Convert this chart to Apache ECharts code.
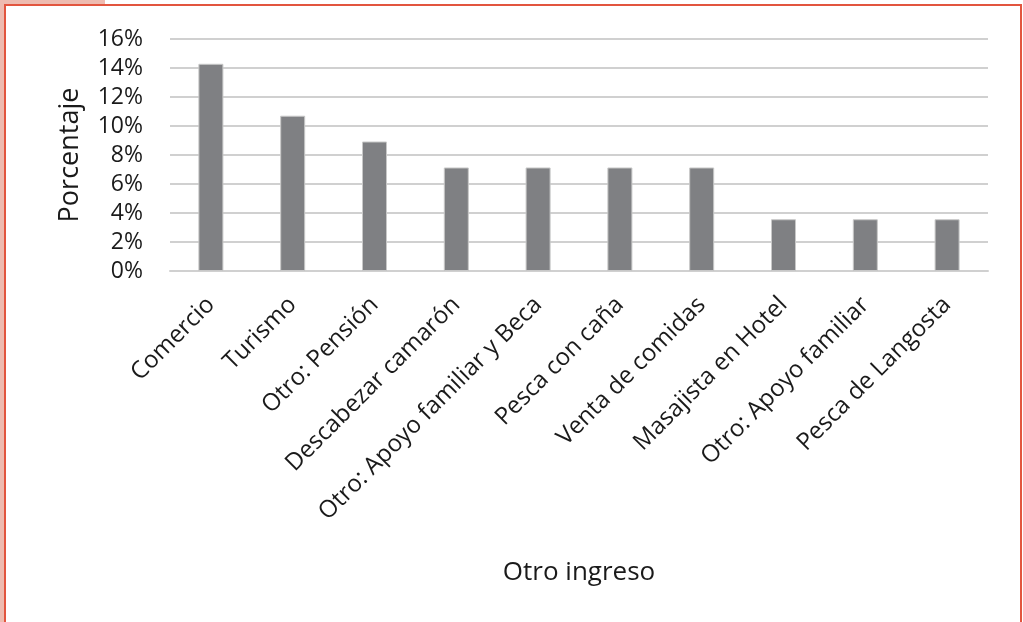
<!DOCTYPE html>
<html>
<head>
<meta charset="utf-8">
<script src="https://cdn.jsdelivr.net/npm/echarts@6/dist/echarts.min.js"></script>
<style>
  html, body { margin: 0; padding: 0; background: #fff; }
  #frame {
    position: absolute; left: 0; top: 0; width: 1023px; height: 622px;
    background: #fff; overflow: hidden;
  }
  #deco-left { position: absolute; left: 0; top: 0; width: 5px; height: 622px; background: #eebbb0; z-index: 2; }
  #deco-top { position: absolute; left: 0; top: 0; width: 105px; height: 5px; background: #eebbb0; z-index: 2; }
  #border {
    position: absolute; left: 4px; top: 4px; width: 1018px; height: 640px;
    border: 2px solid #e2553f; box-sizing: border-box; z-index: 3;
  }
  #chart { position: absolute; left: 0; top: 0; width: 1023px; height: 622px; z-index: 1; }
</style>
</head>
<body>
<div id="frame">
  <div id="chart"></div>
  <div id="deco-left"></div>
  <div id="deco-top"></div>
  <div id="border"></div>
</div>
<script>
const categories = [
  "Comercio",
  "Turismo",
  "Otro: Pensión",
  "Descabezar camarón",
  "Otro: Apoyo familiar y Beca",
  "Pesca con caña",
  "Venta de comidas",
  "Masajista en Hotel",
  "Otro: Apoyo familiar",
  "Pesca de Langosta"
];
const percentages = [14.29, 10.71, 8.93, 7.14, 7.14, 7.14, 7.14, 3.57, 3.57, 3.57];
const yTicks = [0, 2, 4, 6, 8, 10, 12, 14, 16];

const font = "'Open Sans', sans-serif";
const chart = echarts.init(document.getElementById("chart"));
chart.setOption({
  animation: false,
  grid: { left: 170, right: 35, top: 39, bottom: 351 },
  xAxis: {
    type: "category",
    data: categories,
    name: "Otro ingreso",
    nameLocation: "middle",
    nameGap: 289,
    nameTextStyle: { fontFamily: font, fontSize: 26, color: "#1a1a1a" },
    axisLine: { lineStyle: { color: "#d0d0d0", width: 2 } },
    axisTick: { show: false },
    axisLabel: {
      rotate: 45,
      interval: 0,
      margin: 30,
      fontFamily: font,
      fontSize: 24,
      color: "#1a1a1a"
    }
  },
  yAxis: {
    type: "value",
    min: yTicks[0],
    max: yTicks[yTicks.length - 1],
    interval: 2,
    name: "Porcentaje",
    nameLocation: "middle",
    nameGap: 86,
    nameTextStyle: { fontFamily: font, fontSize: 27, color: "#1a1a1a" },
    axisLine: { show: false },
    axisTick: { show: false },
    splitLine: { lineStyle: { color: "#d0d0d0", width: 2 } },
    axisLabel: {
      margin: 27,
      fontFamily: font,
      fontSize: 23,
      color: "#1a1a1a",
      formatter: (v) => v + "%"
    }
  },
  series: [
    {
      type: "bar",
      data: percentages,
      barWidth: 25,
      itemStyle: { color: "#7f8083", borderColor: "#c8c8c8", borderWidth: 1 }
    }
  ]
});
</script>
</body>
</html>
